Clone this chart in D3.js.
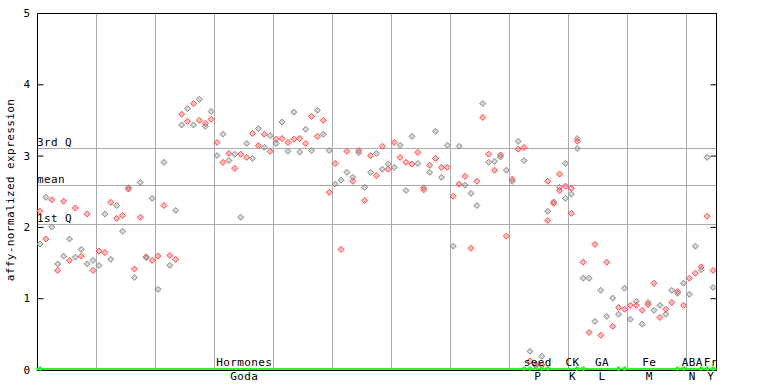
<!DOCTYPE html>
<html>
<head>
<meta charset="utf-8">
<script src="https://cdn.jsdelivr.net/npm/d3@7"></script>
<style>
  body { margin: 0; background: #fff; }
  text { font-family: "DejaVu Sans Mono", monospace; font-size: 11px; letter-spacing: 0.4px; fill: #000; }
</style>
</head>
<body>
<script>
// expression values, one list per sample column
var columns = [
  [2.22, 1.76], [2.415, 1.83], [2.38, 2.00], [1.48, 1.39], [2.36, 1.59],
  [1.83, 1.53], [2.265, 1.575], [1.685, 1.59], [2.18, 1.48], [1.53, 1.39],
  [1.66, 1.46], [2.18, 1.64], [2.345, 1.545], [2.30, 2.12], [2.16, 1.94],
  [2.55, 2.53], [1.41, 1.29], [2.625, 2.135], [1.58, 1.57], [2.40, 1.53],
  [1.59, 1.125], [2.905, 2.30], [1.60, 1.46], [2.23, 1.545], [3.58, 3.43],
  [3.66, 3.48], [3.73, 3.43], [3.79, 3.495], [3.45, 3.41], [3.62, 3.51],
  [3.185, 3.00], [3.30, 2.905], [3.03, 2.93], [3.02, 2.82], [3.02, 2.135],
  [3.17, 2.975], [3.31, 2.96], [3.38, 3.14], [3.30, 3.115], [3.28, 3.06],
  [3.23, 3.17], [3.47, 3.24], [3.185, 3.06], [3.61, 3.23], [3.24, 3.05],
  [3.37, 3.17], [3.55, 3.07], [3.635, 3.27], [3.495, 3.30], [3.07, 2.485],
  [2.89, 2.60], [2.655, 1.685], [3.06, 2.765], [2.695, 2.64], [3.07, 3.04],
  [2.555, 2.37], [3.00, 2.765], [3.03, 2.72], [3.13, 2.81], [2.88, 2.81],
  [3.185, 2.835], [3.145, 2.975], [2.905, 2.51], [3.27, 2.88], [3.045, 2.89],
  [2.55, 2.52], [2.865, 2.765], [3.34, 2.96], [2.835, 2.695], [3.145, 2.835],
  [2.43, 1.73], [3.13, 2.60], [2.71, 2.585], [2.47, 1.70], [2.64, 2.30],
  [3.73, 3.535], [3.02, 2.905], [2.92, 2.795], [3.01, 2.98], [2.795, 1.87],
  [2.67, 2.64], [3.20, 3.09], [3.115, 2.93],
  [0.255, 0.12], [0.07, 0.05], [0.185, 0.06],
  [2.64, 2.22, 2.09], [2.35, 2.33], [2.74, 2.555, 2.51], [2.89, 2.57, 2.40],
  [2.54, 2.46, 2.19], [3.24, 3.20, 3.10],
  [1.505, 1.28], [1.28, 0.52], [1.755, 0.675], [1.11, 0.48], [1.505, 0.745],
  [1.00, 0.605], [0.87, 0.775],
  [1.14, 0.845], [0.90, 0.705], [0.955, 0.90], [0.83, 0.635], [0.94, 0.91],
  [1.21, 0.83], [0.90, 0.73], [0.845, 0.775], [1.11, 0.94], [1.095, 1.07],
  [1.21, 0.90], [1.28, 1.055], [1.73, 1.35], [1.44, 1.40],
  [2.975, 2.15], [1.39, 1.15]
];

var groupNames = ["Hormones", "seed", "CK", "GA", "Fe", "ABA", "Fr"];
var groupCodes = ["Goda", "P", "K", "L", "M", "N", "Y"];
var groupStart = [0, 83, 86, 92, 99, 109, 113];
var groupEnd = [82, 85, 91, 98, 108, 112, 114];
var labelCol = [34.6, 84.3, 90.2, 95.2, 103.2, 110.5, 113.6];

var refNames = ["3rd Q", "mean", "1st Q"];
var refValues = [3.107, 2.588, 2.04];
var yTicks = [0, 1, 2, 3, 4, 5];

var width = 768, height = 384;
var pLeft = 37, pRight = 716, pTop = 13, pBottom = 370;

var svg = d3.select("body").append("svg")
    .attr("width", width)
    .attr("height", height);

var idx = d3.range(columns.length);

var x = d3.scalePoint()
    .domain(idx)
    .range([pLeft, pRight])
    .padding(0.5);
var step = x.step();

var y = d3.scaleLinear()
    .domain([0, 5])
    .range([pBottom - 0.5, pTop]);

// vertical grid every 10 columns
var gridCols = d3.range(10, columns.length, 10);
svg.append("g").selectAll("line")
    .data(gridCols)
    .enter().append("line")
    .attr("x1", function (d) { return Math.round(x(d) - step / 2) + 0.5; })
    .attr("x2", function (d) { return Math.round(x(d) - step / 2) + 0.5; })
    .attr("y1", pTop)
    .attr("y2", pBottom)
    .attr("stroke", "#aaa");

// quartile / mean lines
svg.append("g").selectAll("line")
    .data(refValues)
    .enter().append("line")
    .attr("x1", pLeft)
    .attr("x2", pRight)
    .attr("y1", function (d) { return Math.round(y(d)) + 0.5; })
    .attr("y2", function (d) { return Math.round(y(d)) + 0.5; })
    .attr("stroke", "#aaa");

svg.append("g").selectAll("text")
    .data(refNames)
    .enter().append("text")
    .attr("x", pLeft)
    .attr("y", function (d, i) { return Math.round(y(refValues[i])) - 2; })
    .text(function (d) { return d; });

// frame
svg.append("path")
    .attr("d", "M" + (pLeft + 0.5) + "," + pBottom + "V" + (pTop + 0.5) + "H" + (pRight + 0.5) + "V" + pBottom)
    .attr("fill", "none")
    .attr("stroke", "#000");
svg.append("line")
    .attr("x1", pLeft).attr("x2", pRight + 1)
    .attr("y1", pBottom + 0.5).attr("y2", pBottom + 0.5)
    .attr("stroke", "#000");

var yAxis = svg.append("g")
    .attr("transform", "translate(" + (pLeft + 0.5) + ",0)")
    .call(d3.axisLeft(y).tickValues(yTicks).tickFormat(d3.format("d"))
        .tickSize(-6).tickPadding(7));
yAxis.select(".domain").remove();
yAxis.selectAll("line").attr("stroke", "#000");
yAxis.selectAll("text")
    .style("font-family", "DejaVu Sans Mono, monospace")
    .style("font-size", "11px")
    .attr("fill", "#000");

var yAxisR = svg.append("g")
    .attr("transform", "translate(" + (pRight + 0.5) + ",0)")
    .call(d3.axisRight(y).tickValues(yTicks).tickFormat("").tickSize(-6));
yAxisR.select(".domain").remove();
yAxisR.selectAll("line").attr("stroke", "#000");

svg.append("text")
    .attr("transform", "translate(14,190) rotate(-90)")
    .attr("text-anchor", "middle")
    .text("affy-normalized expression");

// points
var pts = [];
columns.forEach(function (vals, i) {
    vals.forEach(function (v, j) {
        pts.push({ col: i, v: v, red: (i + j) % 2 == 0 });
    });
});

svg.append("g").selectAll("path")
    .data(pts)
    .enter().append("path")
    .attr("transform", function (d) { return "translate(" + x(d.col) + "," + y(d.v) + ")"; })
    .attr("d", "M0,-3L3,0L0,3L-3,0Z")
    .attr("fill", function (d) { return d.red ? "#ff6060" : "#999"; })
    .attr("fill-opacity", 0.4)
    .attr("stroke", function (d) { return d.red ? "#ff4444" : "#888"; })
    .attr("stroke-width", 1);

// group brackets along the bottom
var gb = svg.append("g");
groupNames.forEach(function (name, i) {
    var x0 = x(groupStart[i]) - 2.5, x1 = x(groupEnd[i]) + 2.5;
    var yy = pBottom - 1;
    gb.append("path")
        .attr("d", "M" + x0 + "," + yy + "H" + x1 +
            "M" + (x0 + 4) + "," + (yy - 2) + "L" + x0 + "," + yy + "L" + (x0 + 4) + "," + (yy + 1) +
            "M" + (x1 - 4) + "," + (yy - 2) + "L" + x1 + "," + yy + "L" + (x1 - 4) + "," + (yy + 1))
        .attr("fill", "none")
        .attr("stroke", "#33ee33")
        .attr("stroke-width", 2);
    gb.append("text")
        .attr("x", x(0) + labelCol[i] * step)
        .attr("y", 366)
        .attr("text-anchor", "middle")
        .text(name);
    gb.append("text")
        .attr("x", x(0) + labelCol[i] * step)
        .attr("y", 380)
        .attr("text-anchor", "middle")
        .text(groupCodes[i]);
});
</script>
</body>
</html>
